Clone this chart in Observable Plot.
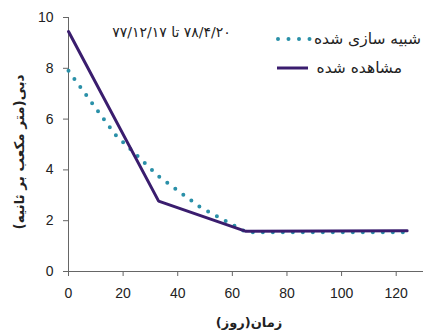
<!DOCTYPE html>
<html>
<head>
<meta charset="utf-8">
<script src="https://cdn.jsdelivr.net/npm/d3@7"></script>
<script src="https://cdn.jsdelivr.net/npm/@observablehq/plot@0.6"></script>
<style>
  html, body { margin: 0; padding: 0; background: #fff; }
  svg { display: block; }
</style>
</head>
<body>
<div id="chart"></div>
<script>
// Data
const observedDays = [0, 33, 65, 124];
const observedFlow = [9.45, 2.77, 1.58, 1.6];
const simulatedDays = [0, 17, 33, 48, 65, 124];
const simulatedFlow = [7.9, 5.4, 3.75, 2.55, 1.55, 1.55];
const xTicks = [0, 20, 40, 60, 80, 100, 120];
const yTicks = [0, 2, 4, 6, 8, 10];
const seriesNames = ["شبیه سازی شده", "مشاهده شده"];
const periodLabel = "\u202B۷۸/۴/۲۰ تا ۷۷/۱۲/۱۷\u202C";
const xLabel = "زمان(روز)";
const yLabel = "دبی(متر مکعب بر ثانیه)";

const observed = observedDays.map((d, i) => ({day: d, flow: observedFlow[i]}));
const simulated = simulatedDays.map((d, i) => ({day: d, flow: simulatedFlow[i]}));

const purple = "#3a1d6e";
const teal = "#2a90a8";
const W = 423, H = 331;

const plot = Plot.plot({
  width: W,
  height: H,
  marginLeft: 68,
  marginRight: 0,
  marginTop: 17,
  marginBottom: 60,
  style: {fontFamily: "'DejaVu Sans', sans-serif", fontSize: "13px", color: "#222", background: "#fff"},
  x: {domain: [0, 130], ticks: xTicks, label: null},
  y: {domain: [0, 10], ticks: yTicks, label: null},
  marks: [
    Plot.axisX({ticks: xTicks, tickSize: 5, tickPadding: 12, fontSize: 14, fontFamily: "'Liberation Sans', Arial, sans-serif", stroke: "#666", fill: "#222"}),
    Plot.axisY({ticks: yTicks, tickSize: 5, tickPadding: 10, fontSize: 14, fontFamily: "'Liberation Sans', Arial, sans-serif", stroke: "#666", fill: "#222"}),
    Plot.ruleY([0], {stroke: "#666", strokeWidth: 1}),
    Plot.ruleX([0], {stroke: "#666", strokeWidth: 1}),
    Plot.line(simulated, {x: "day", y: "flow", stroke: teal, strokeWidth: 4, strokeDasharray: "0 10", strokeLinecap: "round"}),
    Plot.line(observed, {x: "day", y: "flow", stroke: purple, strokeWidth: 3, strokeLinejoin: "miter"}),
    Plot.text([periodLabel], {frameAnchor: "top-left", dx: 103, dy: 15, lineAnchor: "middle", text: d => d, fontSize: 14, fill: "#222", textAnchor: "middle"})
  ]
});

const svg = d3.select(plot);
// y-axis title
svg.append("text")
  .attr("transform", "translate(20,152) rotate(-90)")
  .attr("text-anchor", "middle")
  .attr("dominant-baseline", "middle")
  .attr("font-family", "'DejaVu Sans', sans-serif")
  .attr("font-weight", "bold")
  .attr("font-size", 13.5)
  .attr("fill", "#222")
  .text(yLabel);
// x-axis title
svg.append("text")
  .attr("x", 249).attr("y", 323)
  .attr("text-anchor", "middle")
  .attr("dominant-baseline", "middle")
  .attr("font-family", "'DejaVu Sans', sans-serif")
  .attr("font-weight", "bold")
  .attr("font-size", 13)
  .attr("fill", "#222")
  .text(xLabel);

// legend
const lg = svg.append("g");
lg.append("line").attr("x1", 278).attr("x2", 320).attr("y1", 39).attr("y2", 39)
  .attr("stroke", teal).attr("stroke-width", 4).attr("stroke-dasharray", "0 10.5").attr("stroke-linecap", "round");
lg.append("text").attr("x", 421).attr("y", 39).attr("text-anchor", "end").attr("dominant-baseline", "middle")
  .attr("font-family", "'DejaVu Sans', sans-serif").attr("font-size", 15.5).attr("fill", "#222").text(seriesNames[0]);
lg.append("line").attr("x1", 277).attr("x2", 308).attr("y1", 68).attr("y2", 68)
  .attr("stroke", purple).attr("stroke-width", 3);
lg.append("text").attr("x", 402).attr("y", 68).attr("text-anchor", "end").attr("dominant-baseline", "middle")
  .attr("font-family", "'DejaVu Sans', sans-serif").attr("font-size", 15.5).attr("fill", "#222").text(seriesNames[1]);

document.getElementById("chart").appendChild(plot);
</script>
</body>
</html>
